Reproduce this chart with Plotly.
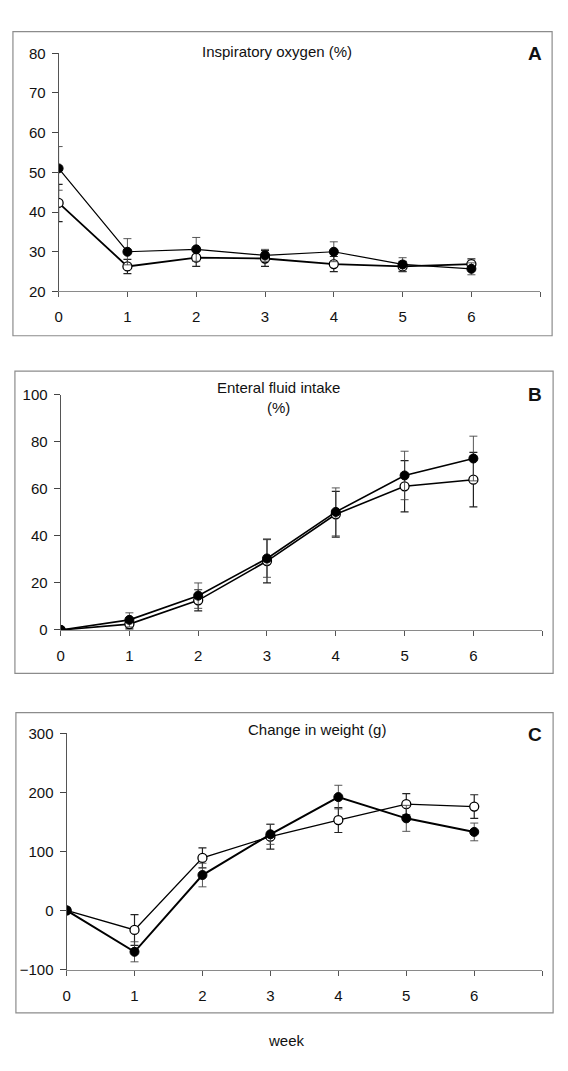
import plotly.graph_objects as go

weeks = [0, 1, 2, 3, 4, 5, 6]
x_ticks = [0, 1, 2, 3, 4, 5, 6, 7]
x_ticktext = ["0", "1", "2", "3", "4", "5", "6", ""]

# Panel A: Inspiratory oxygen (%)
a_filled = [51.0, 30.0, 30.6, 29.1, 30.0, 26.8, 25.7]
a_filled_err = [5.5, 3.3, 3.0, 1.5, 2.5, 1.7, 1.5]
a_open = [42.3, 26.3, 28.5, 28.3, 26.9, 26.3, 26.9]
a_open_err = [4.7, 1.8, 2.2, 2.0, 1.9, 1.3, 1.3]

# Panel B: Enteral fluid intake (%)
b_filled = [0, 4.3, 14.6, 30.4, 50.2, 65.7, 72.9]
b_filled_err = [0, 3.0, 5.4, 8.0, 10.2, 10.3, 9.5]
b_open = [0, 2.5, 12.6, 29.3, 49.2, 61.1, 63.9]
b_open_err = [0, 2.0, 4.5, 9.3, 9.7, 10.9, 11.6]

# Panel C: Change in weight (g)
c_filled = [0, -70, 60, 129, 192, 156, 133]
c_filled_err = [0, 17, 20, 17, 20, 22, 15]
c_open = [0, -33, 89, 125, 153, 180, 176]
c_open_err = [0, 26, 17, 21, 21, 18, 20]

W, H = 568, 1071
FONT = "Liberation Sans, Arial, Helvetica, sans-serif"

panels = [
    dict(filled=a_filled, ferr=a_filled_err, open=a_open, oerr=a_open_err,
         yrange=[20, 80], dtick=10, px=(55, 540), py=(45, 287),
         box=(9, 23, 552, 332), title="Inspiratory oxygen (%)", tpos=(275, 43),
         letter="A", lpos=(535, 45), fw=1.2, ow=1.8),
    dict(filled=b_filled, ferr=b_filled_err, open=b_open, oerr=b_open_err,
         yrange=[0, 100], dtick=20, px=(57, 542), py=(392, 631),
         box=(11, 368, 553, 675), title="Enteral fluid intake<br>(%)", tpos=(276, 395),
         letter="B", lpos=(535, 392), fw=1.6, ow=1.6),
    dict(filled=c_filled, ferr=c_filled_err, open=c_open, oerr=c_open_err,
         yrange=[-100, 300], dtick=100, px=(63, 542), py=(736, 976),
         box=(12, 715, 553, 1020), title="Change in weight (g)", tpos=(315, 732),
         letter="C", lpos=(535, 737), fw=2.0, ow=1.3),
]

fig = go.Figure()
shapes = []
annotations = []
layout_axes = {}

for i, p in enumerate(panels, start=1):
    xa = "x" if i == 1 else f"x{i}"
    ya = "y" if i == 1 else f"y{i}"
    fig.add_trace(go.Scatter(
        x=weeks, y=p["open"], mode="lines+markers", xaxis=xa, yaxis=ya,
        line=dict(color="black", width=p["ow"]),
        marker=dict(symbol="circle", size=9, color="white",
                    line=dict(color="black", width=1.3)),
        error_y=dict(type="data", array=p["oerr"], visible=True,
                     color="#222", thickness=1.2, width=4),
        showlegend=False))
    fig.add_trace(go.Scatter(
        x=weeks, y=p["filled"], mode="lines+markers", xaxis=xa, yaxis=ya,
        line=dict(color="black", width=p["fw"]),
        marker=dict(symbol="circle", size=9, color="black",
                    line=dict(color="black", width=1)),
        error_y=dict(type="data", array=p["ferr"], visible=True,
                     color="#444", thickness=0.9, width=4),
        showlegend=False))

    x0, x1 = p["px"]
    y0, y1 = p["py"]
    xkey = "xaxis" if i == 1 else f"xaxis{i}"
    ykey = "yaxis" if i == 1 else f"yaxis{i}"
    layout_axes[xkey] = dict(
        domain=[x0 / W, x1 / W], range=[0, 7], anchor=ya,
        tickmode="array", tickvals=x_ticks, ticktext=x_ticktext,
        showgrid=False, zeroline=False, showline=True, linecolor="#8a8a8a",
        linewidth=1, ticks="outside", ticklen=5, tickcolor="#555",
        ticklabelstandoff=7,
        tickfont=dict(family=FONT, size=15, color="#111"))
    layout_axes[ykey] = dict(
        domain=[1 - y1 / H, 1 - y0 / H], range=p["yrange"], anchor=xa,
        tickmode="linear", tick0=p["yrange"][0], dtick=p["dtick"],
        showgrid=False, zeroline=False, showline=True, linecolor="#555",
        linewidth=1, ticks="outside", ticklen=6, tickcolor="#444",
        ticklabelstandoff=3,
        tickfont=dict(family=FONT, size=15, color="#111"))

    bx0, by0, bx1, by1 = p["box"]
    shapes.append(dict(type="rect", xref="paper", yref="paper",
                       x0=bx0 / W, x1=bx1 / W, y0=1 - by1 / H, y1=1 - by0 / H,
                       line=dict(color="#8c8c8c", width=1.2)))
    annotations.append(dict(text=p["title"], xref="paper", yref="paper",
                            x=p["tpos"][0] / W, y=1 - p["tpos"][1] / H,
                            xanchor="center", yanchor="middle", showarrow=False,
                            font=dict(family=FONT, size=15, color="#111")))
    annotations.append(dict(text=f"<b>{p['letter']}</b>", xref="paper", yref="paper",
                            x=p["lpos"][0] / W, y=1 - p["lpos"][1] / H,
                            xanchor="center", yanchor="middle", showarrow=False,
                            font=dict(family=FONT, size=19, color="#111")))

annotations.append(dict(text="week", xref="paper", yref="paper",
                        x=284 / W, y=1 - 1048 / H, xanchor="center", yanchor="middle",
                        showarrow=False, font=dict(family=FONT, size=15, color="#111")))

fig.update_layout(width=W, height=H, margin=dict(l=0, r=0, t=0, b=0),
                  paper_bgcolor="white", plot_bgcolor="white",
                  shapes=shapes, annotations=annotations, **layout_axes)

fig.write_html("out.html", config={"displayModeBar": False},
               post_script="document.body.style.margin='0';document.body.style.overflow='hidden';")
